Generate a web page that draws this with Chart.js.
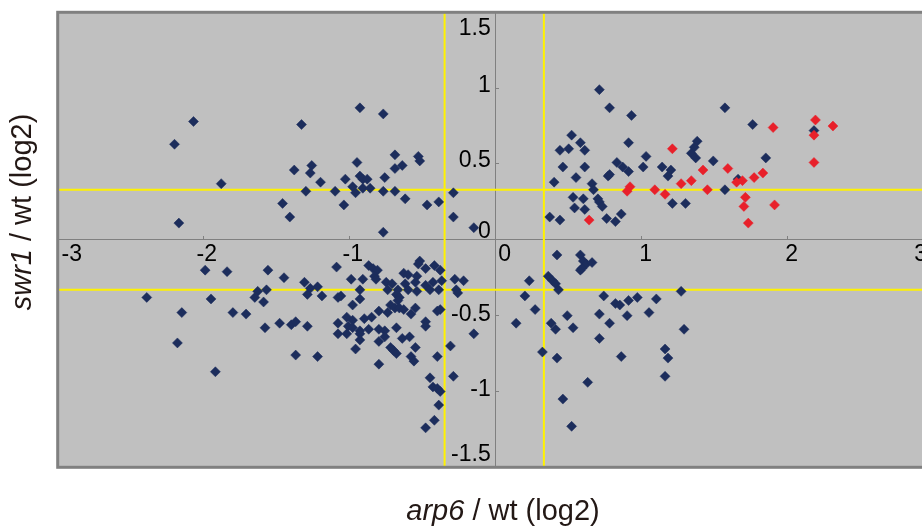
<!DOCTYPE html>
<html>
<head>
<meta charset="utf-8">
<script src="https://cdn.jsdelivr.net/npm/chart.js@4.4.1/dist/chart.umd.min.js"></script>
<style>
html,body{margin:0;padding:0;background:#ffffff;overflow:hidden;width:922px;height:527px;}
#wrap{position:relative;width:934px;height:527px;}
</style>
</head>
<body>
<div id="wrap"><canvas id="c"></canvas></div>
<script>
// ---------- data ----------
const xTickValues = [-3, -2, -1, 0, 1, 2, 3];
const yTickValues = [-1.5, -1, -0.5, 0, 0.5, 1, 1.5];
const xThresholds = [-0.35, 0.33];
const yThresholds = [-0.33, 0.33];
const xTitleParts = [["arp6", true], [" / wt (log2)", false]];
const yTitleParts = [["swr1", true], [" / wt (log2)", false]];

// dark blue genes (arp6/wt, swr1/wt)
const navyX = [
  // upper left
  -2.07,-2.20,-1.88,-2.17,-1.33,-0.93,-0.77,-1.38,-1.26,-1.27,-1.20,-1.46,-1.41,-1.30,-1.10,-1.03,-1.04,-0.95,-0.93,-0.91,
  -0.88,-0.98,-0.96,-0.91,-0.86,-0.77,-0.76,-0.69,-0.69,-0.69,-0.64,-0.62,-0.53,-0.52,-0.47,-0.39,-0.29,-0.29,-0.77,-0.15,
  // upper right
  0.71,0.78,0.93,0.52,0.58,0.44,0.50,0.61,0.91,0.46,0.61,0.40,0.55,0.83,0.87,0.91,0.77,0.78,1.03,1.01,
  1.14,1.20,1.18,0.66,0.67,0.53,0.60,0.54,0.61,0.70,0.71,0.73,0.37,0.44,0.76,0.82,0.86,1.21,1.30,1.38,
  1.36,1.34,1.37,1.57,1.76,2.18,1.85,1.49,1.66,1.57,
  // lower left
  -1.99,-1.84,-1.56,-1.45,-1.31,-1.22,-1.27,-2.39,-1.95,-1.63,-1.57,-1.65,-1.59,-1.29,-1.19,-2.15,-1.80,-1.71,-1.48,-1.40,
  -1.37,-1.29,-1.58,-2.18,-1.37,-1.22,-1.92,-1.09,-0.87,-0.84,-0.81,-0.83,-0.52,-0.53,-0.42,-0.38,-0.48,-0.63,-0.60,-0.54,
  -0.99,-0.91,-0.82,-0.75,-0.71,-0.62,-0.55,-0.48,-0.43,-0.37,-0.28,-0.22,-0.93,-0.74,-0.67,-0.60,-0.54,-0.45,-0.39,-0.27,
  -0.26,-1.08,-1.06,-0.93,-0.68,-0.66,-0.67,-0.98,-0.72,-0.69,-0.66,-0.55,-0.58,-0.80,-0.74,-0.63,-0.40,-0.38,-1.08,-1.02,
  -0.98,-0.90,-0.85,-1.01,-1.08,-1.02,-0.98,-0.93,-0.93,-0.93,-0.87,-0.80,-0.76,-0.68,-0.76,-0.80,-0.64,-0.59,-0.48,-0.48,
  -0.55,-0.72,-0.70,-0.68,-0.96,-0.58,-0.56,-0.40,-0.80,-0.15,-0.31,-0.29,-0.45,-0.43,-0.40,-0.38,-0.39,-0.42,-0.48,
  // lower right
  0.42,0.58,0.60,0.62,0.66,0.58,0.59,0.23,0.36,0.39,0.41,0.43,0.20,0.74,0.82,0.85,0.91,0.97,1.10,1.27,
  0.27,0.49,0.71,0.90,1.05,0.14,0.38,0.41,0.53,0.78,1.29,0.71,0.32,0.42,0.86,1.16,1.18,1.16,0.63,0.46,0.52
];
const navyY = [
  // upper left
  0.78,0.63,0.37,0.11,0.76,0.87,0.83,0.46,0.49,0.44,0.38,0.24,0.15,0.32,0.32,0.40,0.23,0.51,0.42,0.40,
  0.40,0.35,0.31,0.34,0.34,0.32,0.41,0.32,0.56,0.47,0.49,0.27,0.55,0.52,0.23,0.25,0.31,0.15,0.05,0.08,
  // upper right
  0.99,0.87,0.82,0.69,0.64,0.59,0.60,0.59,0.64,0.48,0.48,0.38,0.41,0.51,0.48,0.45,0.42,0.43,0.55,0.48,
  0.48,0.46,0.42,0.37,0.33,0.28,0.27,0.21,0.20,0.27,0.25,0.22,0.15,0.13,0.14,0.12,0.17,0.24,0.24,0.65,
  0.61,0.57,0.54,0.87,0.76,0.72,0.54,0.52,0.40,0.33,
  // lower left
  -0.20,-0.21,-0.20,-0.25,-0.28,-0.31,-0.32,-0.38,-0.39,-0.34,-0.33,-0.38,-0.41,-0.36,-0.37,-0.48,-0.48,-0.49,-0.55,-0.56,
  -0.54,-0.57,-0.58,-0.68,-0.76,-0.77,-0.87,-0.18,-0.17,-0.19,-0.20,-0.24,-0.14,-0.16,-0.17,-0.20,-0.19,-0.22,-0.23,-0.24,
  -0.26,-0.26,-0.26,-0.28,-0.29,-0.29,-0.28,-0.30,-0.28,-0.27,-0.26,-0.27,-0.33,-0.33,-0.33,-0.33,-0.34,-0.33,-0.33,-0.33,
  -0.35,-0.38,-0.37,-0.39,-0.36,-0.38,-0.40,-0.43,-0.43,-0.45,-0.45,-0.45,-0.49,-0.47,-0.48,-0.46,-0.47,-0.46,-0.55,-0.51,
  -0.53,-0.52,-0.51,-0.57,-0.62,-0.62,-0.58,-0.60,-0.62,-0.66,-0.59,-0.59,-0.60,-0.58,-0.64,-0.67,-0.65,-0.64,-0.54,-0.57,
  -0.71,-0.71,-0.73,-0.75,-0.72,-0.77,-0.80,-0.77,-0.82,-0.62,-0.70,-0.90,-0.91,-0.97,-0.98,-1.00,-1.09,-1.19,-1.24,
  // lower right
  -0.10,-0.10,-0.14,-0.16,-0.15,-0.20,-0.19,-0.27,-0.24,-0.27,-0.29,-0.33,-0.37,-0.37,-0.42,-0.43,-0.40,-0.38,-0.39,-0.34,
  -0.46,-0.50,-0.49,-0.50,-0.48,-0.55,-0.55,-0.59,-0.58,-0.55,-0.59,-0.65,-0.74,-0.78,-0.77,-0.72,-0.78,-0.90,-0.94,-1.05,-1.23
];

// highlighted (red) genes
const redX = [2.19,2.31,1.90,2.18,1.21,2.18,1.59,1.42,1.83,1.77,1.69,1.65,1.34,1.27,0.92,0.90,1.09,1.16,1.45,1.71,1.70,1.91,1.73,0.64];
const redY = [0.79,0.75,0.74,0.69,0.60,0.51,0.47,0.46,0.44,0.41,0.39,0.38,0.39,0.37,0.35,0.32,0.33,0.30,0.33,0.28,0.22,0.23,0.11,0.13];

// ---------- helpers ----------
const zip = (xs, ys) => xs.map((x, i) => ({x: x, y: ys[i]}));
const xMin = xTickValues[0], xMax = xTickValues[xTickValues.length - 1];
const yMin = yTickValues[0], yMax = yTickValues[yTickValues.length - 1];

const FONT = '"Liberation Sans", Arial, Helvetica, sans-serif';
const NAVY = '#1c2d5c';
const RED = '#e8202a';
const YELLOW = '#fff200';
const AXIS_GRAY = '#808080';

const lineDatasets = [
  ...xThresholds.map(t => ({
    type: 'scatter', data: [{x: t, y: yMin}, {x: t, y: yMax}],
    showLine: true, borderColor: YELLOW, borderWidth: 2, pointRadius: 0, order: 3
  })),
  ...yThresholds.map(t => ({
    type: 'scatter', data: [{x: xMin, y: t}, {x: xMax, y: t}],
    showLine: true, borderColor: YELLOW, borderWidth: 2, pointRadius: 0, order: 3
  }))
];

// label nudges (pixels) to mimic the original layout
const xLabelDx = {'-3': 14, '-2': 3, '-1': 3, '0': 9, '1': 4, '2': 4, '3': -13};
const yLabelDy = {'1.5': 16, '1': -2, '0.5': -3, '0': -8, '-0.5': -1, '-1': -2, '-1.5': -13};

const decor = {
  id: 'decor',
  beforeDraw(chart) {
    const {ctx, chartArea: a} = chart;
    ctx.save();
    ctx.fillStyle = '#c0c0c0';
    ctx.fillRect(a.left, a.top, a.right - a.left, a.bottom - a.top);
    ctx.restore();
    // nudge tick label positions
    const xs = chart.scales.x, ys = chart.scales.y;
    try {
      const xi = xs.getLabelItems();
      if (xi && !xi.__adj) {
        const yMid = ys.getPixelForValue(0) + 15;
        xi.forEach(it => {
          const lab = String(it.label);
          const v = parseFloat(lab);
          it.options.translation = [xs.getPixelForValue(v) + (xLabelDx[lab] || 0), yMid];
          it.textOffset = 0;
          it.options.textBaseline = 'middle';
          it.options.textAlign = 'center';
        });
        xi.__adj = true;
      }
      const yi = ys.getLabelItems();
      if (yi && !yi.__adj) {
        const xRight = xs.getPixelForValue(0) - 5;
        yi.forEach(it => {
          const lab = String(it.label);
          const v = parseFloat(lab);
          it.options.translation = [xRight, ys.getPixelForValue(v) + (yLabelDy[lab] || 0)];
          it.textOffset = 0;
          it.options.textBaseline = 'middle';
          it.options.textAlign = 'right';
        });
        yi.__adj = true;
      }
    } catch (e) {}
  },
  afterDraw(chart) {
    const {ctx, chartArea: a} = chart;
    ctx.save();
    ctx.strokeStyle = AXIS_GRAY;
    ctx.lineWidth = 3;
    ctx.strokeRect(a.left, a.top, a.right - a.left, a.bottom - a.top);
    ctx.restore();
    drawRich(ctx, xTitleParts, 29, 503, 512, false);
    drawRich(ctx, yTitleParts, 29, 23, 212, true);
  }
};

function drawRich(ctx, parts, size, x, y, rotate) {
  ctx.save();
  ctx.translate(x, y);
  if (rotate) ctx.rotate(-Math.PI / 2);
  ctx.fillStyle = '#231815';
  ctx.textBaseline = 'middle';
  ctx.textAlign = 'left';
  const fonts = parts.map(p => (p[1] ? 'italic ' : '') + size + 'px ' + FONT);
  const widths = parts.map((p, i) => { ctx.font = fonts[i]; return ctx.measureText(p[0]).width; });
  let cx = -widths.reduce((s, w) => s + w, 0) / 2;
  parts.forEach((p, i) => { ctx.font = fonts[i]; ctx.fillText(p[0], cx, 0); cx += widths[i]; });
  ctx.restore();
}

const tickFont = {family: FONT, size: 23};

new Chart(document.getElementById('c'), {
  type: 'scatter',
  data: {
    datasets: [
      {label: 'highlighted', data: zip(redX, redY), pointStyle: 'rectRot', pointRadius: 5,
       backgroundColor: RED, borderColor: RED, borderWidth: 0.5, order: 1},
      {label: 'genes', data: zip(navyX, navyY), pointStyle: 'rectRot', pointRadius: 5,
       backgroundColor: NAVY, borderColor: NAVY, borderWidth: 0.5, order: 2},
      ...lineDatasets
    ]
  },
  options: {
    responsive: true,
    maintainAspectRatio: false,
    animation: false,
    events: [],
    layout: {autoPadding: false, padding: {left: 57.7, top: 12.3, right: 0.3, bottom: 59.7}},
    plugins: {legend: {display: false}, tooltip: {enabled: false}},
    scales: {
      x: {
        type: 'linear', position: {y: 0}, min: xMin, max: xMax,
        afterBuildTicks: s => { s.ticks = xTickValues.map(v => ({value: v})); },
        afterFit: s => { s.height = 0; s.paddingLeft = 0; s.paddingRight = 0; s.paddingTop = 0; s.paddingBottom = 0; },
        grid: {display: true, drawOnChartArea: false, drawTicks: true, tickLength: -4, color: AXIS_GRAY, lineWidth: 1},
        border: {display: true, color: AXIS_GRAY, width: 1},
        ticks: {color: '#000', font: tickFont, autoSkip: false, maxRotation: 0, padding: 0,
                callback: v => String(v)}
      },
      y: {
        type: 'linear', position: {x: 0}, min: yMin, max: yMax,
        afterBuildTicks: s => { s.ticks = yTickValues.map(v => ({value: v})); },
        afterFit: s => { s.width = 0; s.paddingLeft = 0; s.paddingRight = 0; s.paddingTop = 0; s.paddingBottom = 0; },
        grid: {display: true, drawOnChartArea: false, drawTicks: true, tickLength: -4, color: AXIS_GRAY, lineWidth: 1},
        border: {display: true, color: AXIS_GRAY, width: 1},
        ticks: {color: '#000', font: tickFont, autoSkip: false, padding: 0,
                callback: v => String(v)}
      }
    }
  },
  plugins: [decor]
});
</script>
</body>
</html>
